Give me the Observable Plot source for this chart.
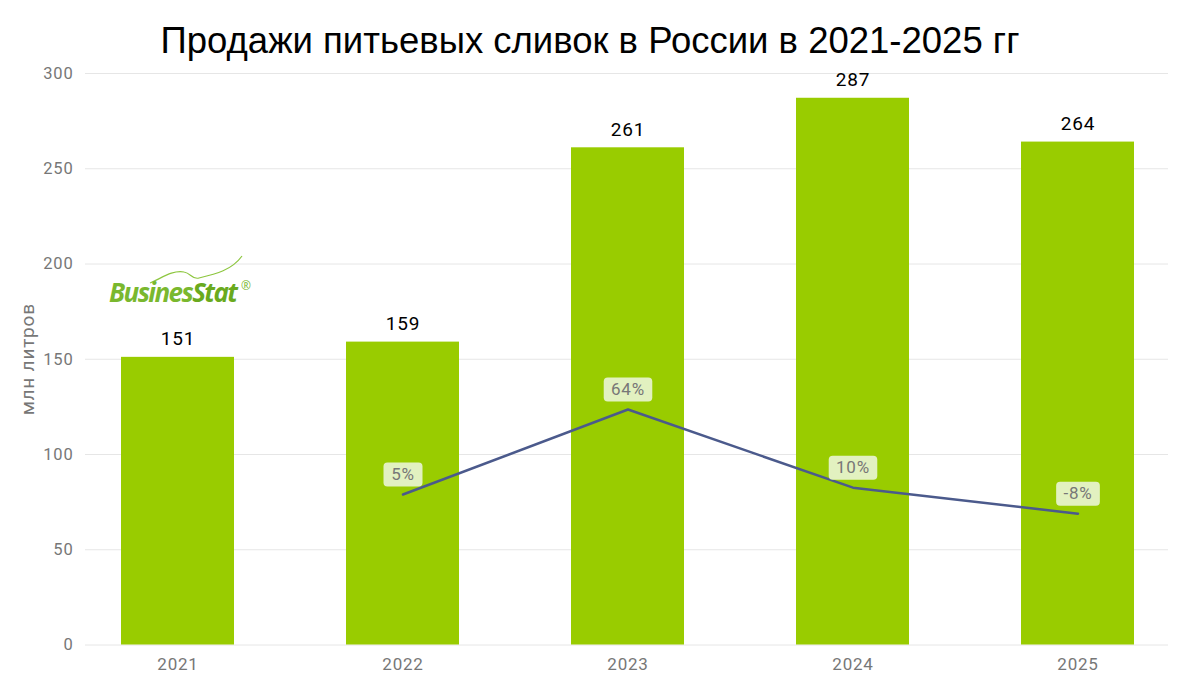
<!DOCTYPE html>
<html>
<head>
<meta charset="utf-8">
<script src="https://cdn.jsdelivr.net/npm/d3@7"></script>
<script src="https://cdn.jsdelivr.net/npm/@observablehq/plot@0.6"></script>
<style>
  html, body { margin: 0; padding: 0; background: #fff; }
  #wrap { position: relative; width: 1180px; height: 685px; overflow: hidden; }
  #title { height: 40px; padding-top: 21px; line-height: 40px; text-align: center;
           font-family: "Liberation Sans", Arial, sans-serif; font-size: 36.5px; color: #000; }
  #chart svg { display: block; overflow: visible; }
  #chart svg text { letter-spacing: 0.8px; }
  #logo { position: absolute; left: 104px; top: 250px; width: 160px; height: 60px; overflow: visible; }
</style>
</head>
<body>
<div id="wrap">
  <div id="title">Продажи питьевых сливок в России в 2021-2025 гг</div>
  <div id="chart"></div>
  <svg id="logo" viewBox="0 0 160 60" xmlns="http://www.w3.org/2000/svg">
    <path d="M46 33 C58 28, 68 20, 80 22 C87 23, 88 30, 95 28 C112 24, 128 20, 138 6" fill="none" stroke="#8dc63f" stroke-width="1.2"/>
    <text x="5" y="52" font-family="Open Sans" font-style="italic" font-weight="700" font-size="26" fill="#7ab82e" letter-spacing="-1.6">Busines<tspan fill="#6aaa1e">Stat</tspan></text>
    <text x="137" y="40" font-family="Open Sans" font-size="12" fill="#7ab82e">®</text>
  </svg>
</div>
<script>
const years = ["2021", "2022", "2023", "2024", "2025"];
const sales = [151, 159, 261, 287, 264];           // млн литров
const growthYears = ["2022", "2023", "2024", "2025"];
const growthPct = [5.3, 64.2, 10.0, -8.0];          // % к предыдущему году
const growthLabels = ["5%", "64%", "10%", "-8%"];
const yTicks = [0, 50, 100, 150, 200, 250, 300];
const yTitle = "млн литров";

// hidden secondary axis for growth (%), mapped onto the primary axis domain
const pctToY = d3.scaleLinear([-99, 297], [0, 300]);

const barData = years.map((year, i) => ({year, value: sales[i]}));
const growthData = growthYears.map((year, i) => ({year, pct: growthPct[i], label: growthLabels[i]}));

const labelFont = "17px Roboto";

const chart = Plot.plot({
  width: 1180,
  height: 623,
  marginLeft: 85,
  marginRight: 12,
  marginTop: 12,
  marginBottom: 39.5,
  style: {fontFamily: "Roboto, sans-serif", background: "#fff"},
  x: {domain: years, range: [120, 1134.5], paddingInner: 0.5, paddingOuter: 0},
  y: {domain: [0, 300]},
  marks: [
    Plot.ruleY(yTicks, {stroke: "#e6e6e6", strokeWidth: 1}),
    Plot.axisY({ticks: yTicks, tickSize: 0, tickPadding: 12, fontSize: 16.5, color: "#777", label: null}),
    Plot.text([yTitle], {frameAnchor: "left", textAnchor: "middle", dx: -58, rotate: -90, fontSize: 19, fill: "#777"}),
    Plot.axisX({tickSize: 0, tickPadding: 13, fontSize: 17, color: "#777", label: null}),
    Plot.barY(barData, {x: "year", y: "value", fill: "#99cc00"}),
    Plot.text(barData, {x: "year", y: "value", text: d => String(d.value), dy: -18,
      fontSize: 19, fontWeight: 400, fill: "#000",
      render(index, scales, values, dimensions, context, next) {
        const g = next(index, scales, values, dimensions, context);
        g.style.letterSpacing = "2px";
        return g;
      }}),
    Plot.line(growthData, {x: "year", y: d => pctToY(d.pct), stroke: "#4b5a8c", strokeWidth: 2.5}),
    Plot.text(growthData, {x: "year", y: d => pctToY(d.pct), text: "label", dy: -20,
      fontSize: 17, fill: "#777",
      render(index, scales, values, dimensions, context, next) {
        const g = next(index, scales, values, dimensions, context);
        const ctx = document.createElement("canvas").getContext("2d");
        ctx.font = labelFont;
        const ns = "http://www.w3.org/2000/svg";
        const first = g.firstChild;
        for (const i of index) {
          const w = ctx.measureText(growthData[i].label).width + 17;
          const r = document.createElementNS(ns, "rect");
          r.setAttribute("x", values.x[i] - w / 2);
          r.setAttribute("y", values.y[i] - 12);
          r.setAttribute("width", w);
          r.setAttribute("height", 24);
          r.setAttribute("rx", 4);
          r.setAttribute("fill", "#e2f1c0");
          g.insertBefore(r, first);
        }
        return g;
      }
    })
  ]
});
document.getElementById("chart").appendChild(chart);
</script>
</body>
</html>
